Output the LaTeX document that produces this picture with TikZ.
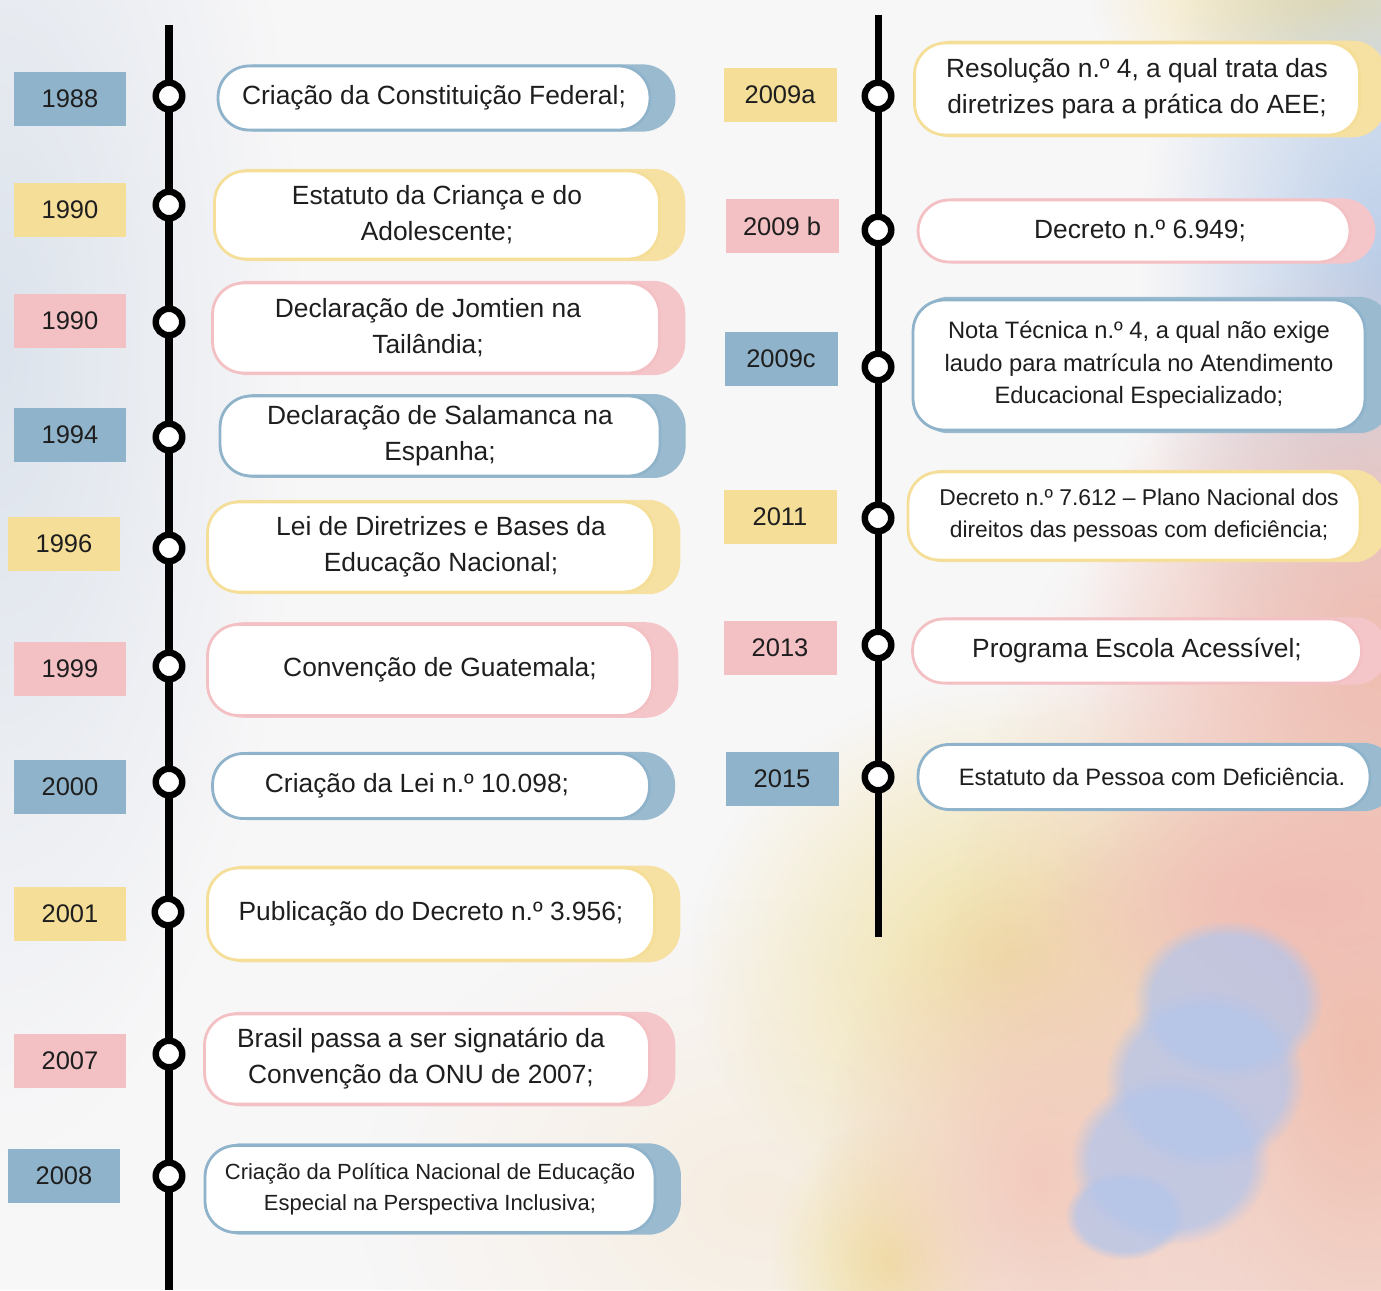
\documentclass[tikz,border=0pt]{standalone}
\usepackage{fontspec}
\setmainfont{Liberation Sans}
\usetikzlibrary{positioning,shadows,fadings}
\definecolor{tlblue}{HTML}{8FB3CA}
\definecolor{tlyellow}{HTML}{F5DE98}
\definecolor{tlpink}{HTML}{F3C0C4}
\definecolor{bgcol}{HTML}{F8F7F8}
\definecolor{inkcol}{HTML}{1E1E1E}
\definecolor{washgrey}{HTML}{DCE3EC}
\definecolor{washyellow}{HTML}{F0E0A0}
\definecolor{washsun}{HTML}{F3DE9A}
\definecolor{washsky}{HTML}{B9CDE8}
\definecolor{washrose}{HTML}{F0BDB5}
\definecolor{washcream}{HTML}{F6EDE0}
\definecolor{washpeach}{HTML}{EFBEAE}
\definecolor{washsalmon}{HTML}{F2CBBE}
\definecolor{washblue}{HTML}{B4C5EA}
\tikzfading[name=blobfade, inner color=transparent!0, outer color=transparent!100]
\tikzset{
  yearbox/.style={fill=#1, minimum width=2.26cm, minimum height=1.08cm, inner sep=0pt,
    text=inkcol, font=\fontsize{14.5}{17}\selectfont},
  evbox/.style={draw=#1, line width=1.6pt, fill=white, rounded corners=0.62cm, align=center,
    inner sep=0pt, text=inkcol, font=\fontsize{15}{20.5}\selectfont,
    general shadow={fill=#1!90, shadow xshift=0.28cm, shadow scale=1.05}},
  smalltxt/.style 2 args={font=\fontsize{#1}{#2}\selectfont},
  knot/.style={circle, draw=black, fill=white, line width=3.7pt, minimum size=0.53cm, inner sep=0pt},
  timeline/.style={line width=4pt, black},
  blob/.style={fill=#1, path fading=blobfade},
  stain/.style={fill=#1, fill opacity=0.75, path fading=circle with fuzzy edge 20 percent}
}

\begin{document}
\begin{tikzpicture}[x=0.02cm, y=-0.02cm]
\clip (0,0) rectangle (1381,1290);
\fill[bgcol] (0,0) rectangle (1381,1290);
\fill[blob=washgrey] (0,350) ellipse (300 and 800);
\fill[blob=washsun] (1330,0) ellipse (240 and 120);
\fill[blob=washsky] (1381,280) ellipse (240 and 500);
\fill[blob=washrose] (1381,650) ellipse (300 and 400);
\fill[blob=washcream] (760,1200) ellipse (400 and 300);
\fill[blob=washyellow] (1010,960) ellipse (320 and 280);
\fill[blob=washyellow] (890,1260) ellipse (120 and 140);
\fill[blob=washpeach] (1360,1050) ellipse (420 and 700);
\fill[blob=washsalmon] (1040,1180) ellipse (220 and 300);
\fill[blob=washrose] (1300,900) ellipse (260 and 120);
\fill[stain=washblue] (1228,1000) ellipse (95 and 80);
\fill[stain=washblue] (1205,1080) ellipse (100 and 90);
\fill[stain=washblue] (1170,1160) ellipse (100 and 85);
\fill[stain=washblue] (1125,1215) ellipse (60 and 45);

\coordinate (ltop) at (169,25);
\coordinate (lbot) at (169,1290);
\coordinate (rtop) at (878,15);
\coordinate (rbot) at (878,937);
\draw[timeline] (ltop) -- (lbot);
\draw[timeline] (rtop) -- (rbot);

\node[yearbox=tlblue] (y1988) at (70,99) {1988};
\node[yearbox=tlyellow] (y1990a) at (70,210) {1990};
\node[yearbox=tlpink] (y1990b) at (70,321) {1990};
\node[yearbox=tlblue] (y1994) at (70,435) {1994};
\node[yearbox=tlyellow] (y1996) at (64,544) {1996};
\node[yearbox=tlpink] (y1999) at (70,669) {1999};
\node[yearbox=tlblue] (y2000) at (70,787) {2000};
\node[yearbox=tlyellow] (y2001) at (70,914) {2001};
\node[yearbox=tlpink] (y2007) at (70,1061) {2007};
\node[yearbox=tlblue] (y2008) at (64,1176) {2008};
\node[yearbox=tlyellow] (y2009a) at (780,95) {2009a};
\node[yearbox=tlpink] (y2009b) at (782,226) {2009 b};
\node[yearbox=tlblue] (y2009c) at (781,359) {2009c};
\node[yearbox=tlyellow] (y2011) at (780,517) {2011};
\node[yearbox=tlpink] (y2013) at (780,648) {2013};
\node[yearbox=tlblue] (y2015) at (782,779) {2015};

\node[knot] (k1988) at (169,96) {};
\node[knot] (k1990a) at (169,205) {};
\node[knot] (k1990b) at (169,322) {};
\node[knot] (k1994) at (169,437) {};
\node[knot] (k1996) at (169,548) {};
\node[knot] (k1999) at (169,666) {};
\node[knot] (k2000) at (169,782) {};
\node[knot] (k2001) at (168,912) {};
\node[knot] (k2007) at (169,1054) {};
\node[knot] (k2008) at (169,1176) {};
\node[knot] (k2009a) at (878,96) {};
\node[knot] (k2009b) at (878,230) {};
\node[knot] (k2009c) at (878,367) {};
\node[knot] (k2011) at (878,518) {};
\node[knot] (k2013) at (878,645) {};
\node[knot] (k2015) at (878,777) {};

\node[evbox=tlblue, minimum width=8.64cm, minimum height=1.28cm] (e1988) at (434,98) {Criação da Constituição Federal;};
\node[evbox=tlyellow, minimum width=8.9cm, minimum height=1.76cm] (e1990a) at (437,215) {Estatuto da Criança e do\\Adolescente;};
\node[evbox=tlpink, minimum width=8.94cm, minimum height=1.8cm] (e1990b) at (436,328) {Declaração de Jomtien na\hspace*{0.32cm}\\Tailândia;\hspace*{0.32cm}};
\node[evbox=tlblue, minimum width=8.8cm, minimum height=1.6cm] (e1994) at (440,436) {Declaração de Salamanca na\\Espanha;};
\node[evbox=tlyellow, minimum width=8.94cm, minimum height=1.8cm] (e1996) at (431,547) {\hspace*{0.4cm}Lei de Diretrizes e Bases da\\\hspace*{0.4cm}Educação Nacional;};
\node[evbox=tlpink, minimum width=8.9cm, minimum height=1.82cm] (e1999) at (430,670) {\hspace*{0.4cm}Convenção de Guatemala;};
\node[evbox=tlblue, minimum width=8.74cm, minimum height=1.3cm] (e2000) at (431,786) {Criação da Lei n.º 10.098;\hspace*{0.56cm}};
\node[evbox=tlyellow, minimum width=8.94cm, minimum height=1.84cm] (e2001) at (431,914) {Publicação do Decreto n.º 3.956;};
\node[evbox=tlpink, minimum width=8.9cm, minimum height=1.8cm] (e2007) at (427,1059) {Brasil passa a ser signatário da\hspace*{0.24cm}\\Convenção da ONU de 2007;\hspace*{0.24cm}};
\node[evbox=tlblue, smalltxt={12.5}{17.5}, minimum width=9cm, minimum height=1.74cm] (e2008) at (430,1189) {Criação da Política Nacional de Educação\\Especial na Perspectiva Inclusiva;};
\node[evbox=tlyellow, minimum width=8.9cm, minimum height=1.84cm] (e2009a) at (1137,89) {Resolução n.º 4, a qual trata das\\diretrizes para a prática do AEE;};
\node[evbox=tlpink, minimum width=8.64cm, minimum height=1.24cm] (e2009b) at (1134,231) {\hspace*{0.24cm}Decreto n.º 6.949;};
\node[evbox=tlblue, smalltxt={13.5}{18.5}, minimum width=9.04cm, minimum height=2.6cm] (e2009c) at (1139,365) {Nota Técnica n.º 4, a qual não exige\\laudo para matrícula no Atendimento\\Educacional Especializado;};
\node[evbox=tlyellow, smalltxt={13}{18.2}, minimum width=9.04cm, minimum height=1.76cm] (e2011) at (1134,516) {\hspace*{0.2cm}Decreto n.º 7.612 – Plano Nacional dos\\\hspace*{0.2cm}direitos das pessoas com deficiência;};
\node[evbox=tlpink, minimum width=8.98cm, minimum height=1.28cm] (e2013) at (1137,651) {Programa Escola Acessível;};
\node[evbox=tlblue, smalltxt={13.5}{18.5}, minimum width=9.04cm, minimum height=1.3cm] (e2015) at (1144,777) {\hspace*{0.32cm}Estatuto da Pessoa com Deficiência.};
\end{tikzpicture}
\end{document}
